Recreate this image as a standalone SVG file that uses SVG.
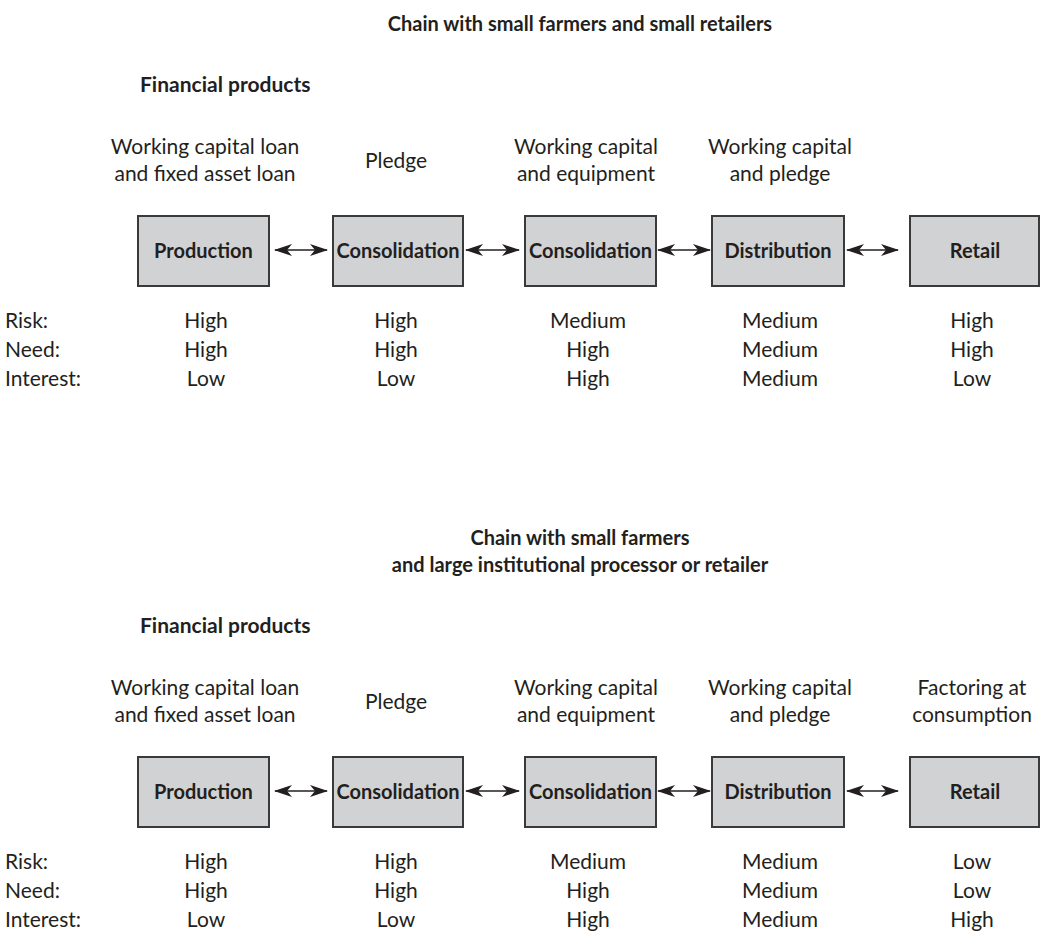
<svg xmlns="http://www.w3.org/2000/svg" width="1040" height="932" viewBox="0 0 1040 932">
  <style>
    text { font-family: Lato, "Liberation Sans", sans-serif; fill: #231f20; }
    .title { font-size: 20px; font-weight: bold; text-anchor: middle; }
    .section { font-size: 21px; font-weight: bold; }
    .prod { font-size: 21px; text-anchor: middle; }
    .val { font-size: 21px; text-anchor: middle; }
    .lbl { font-size: 21px; }
    .box { fill: #d1d2d4; stroke: #3a3a3a; stroke-width: 2; }
    .boxlabel { font-size: 20px; font-weight: bold; text-anchor: middle; }
    .link { stroke: #231f20; stroke-width: 1.6; fill: none; marker-start: url(#head); marker-end: url(#head); }
  </style>
  <defs>
    <marker id="head" viewBox="0 0 18 12" refX="17" refY="6" markerWidth="18" markerHeight="12" markerUnits="userSpaceOnUse" orient="auto-start-reverse">
      <path d="M0,0 L18,6 L0,12 L5,6 Z" fill="#231f20"/>
    </marker>
  </defs>

  <!-- Upper chain: small farmers and small retailers -->
  <g id="chain-upper">
    <text class="title" x="580" y="31">Chain with small farmers and small retailers</text>
    <text class="section" x="140" y="92">Financial products</text>

    <g id="products-upper">
      <text class="prod" x="205" y="154">Working capital loan</text>
      <text class="prod" x="205" y="181">and fixed asset loan</text>
      <text class="prod" x="396" y="168">Pledge</text>
      <text class="prod" x="586" y="154">Working capital</text>
      <text class="prod" x="586" y="181">and equipment</text>
      <text class="prod" x="780" y="154">Working capital</text>
      <text class="prod" x="780" y="181">and pledge</text>
    </g>

    <g id="u-production"><rect class="box" x="138" y="216" width="131" height="70"/><text class="boxlabel" x="203.5" y="258">Production</text></g>
    <g id="u-consolidation1"><rect class="box" x="333" y="216" width="130" height="70"/><text class="boxlabel" x="398" y="258">Consolidation</text></g>
    <g id="u-consolidation2"><rect class="box" x="525" y="216" width="131" height="70"/><text class="boxlabel" x="590.5" y="258">Consolidation</text></g>
    <g id="u-distribution"><rect class="box" x="712" y="216" width="132" height="70"/><text class="boxlabel" x="778" y="258">Distribution</text></g>
    <g id="u-retail"><rect class="box" x="910" y="216" width="129" height="70"/><text class="boxlabel" x="975" y="258">Retail</text></g>

    <g id="connectors-upper">
      <line class="link" x1="275" y1="250" x2="327" y2="250"/>
      <line class="link" x1="466" y1="250" x2="519" y2="250"/>
      <line class="link" x1="658" y1="250" x2="710" y2="250"/>
      <line class="link" x1="847" y1="250" x2="898" y2="250"/>
    </g>

    <g id="ratings-upper">
      <text class="lbl" x="5" y="328">Risk:</text>
      <text class="lbl" x="5" y="357">Need:</text>
      <text class="lbl" x="5" y="386">Interest:</text>
      <text class="val" x="206" y="328">High</text>
      <text class="val" x="206" y="357">High</text>
      <text class="val" x="206" y="386">Low</text>
      <text class="val" x="396" y="328">High</text>
      <text class="val" x="396" y="357">High</text>
      <text class="val" x="396" y="386">Low</text>
      <text class="val" x="588" y="328">Medium</text>
      <text class="val" x="588" y="357">High</text>
      <text class="val" x="588" y="386">High</text>
      <text class="val" x="780" y="328">Medium</text>
      <text class="val" x="780" y="357">Medium</text>
      <text class="val" x="780" y="386">Medium</text>
      <text class="val" x="972" y="328">High</text>
      <text class="val" x="972" y="357">High</text>
      <text class="val" x="972" y="386">Low</text>
    </g>
  </g>

  <!-- Lower chain: small farmers and large institutional processor or retailer -->
  <g id="chain-lower">
    <text class="title" x="580" y="545">Chain with small farmers</text>
    <text class="title" x="580" y="572">and large institutional processor or retailer</text>
    <text class="section" x="140" y="633">Financial products</text>

    <g id="products-lower">
      <text class="prod" x="205" y="695">Working capital loan</text>
      <text class="prod" x="205" y="722">and fixed asset loan</text>
      <text class="prod" x="396" y="709">Pledge</text>
      <text class="prod" x="586" y="695">Working capital</text>
      <text class="prod" x="586" y="722">and equipment</text>
      <text class="prod" x="780" y="695">Working capital</text>
      <text class="prod" x="780" y="722">and pledge</text>
      <text class="prod" x="972" y="695">Factoring at</text>
      <text class="prod" x="972" y="722">consumption</text>
    </g>

    <g id="l-production"><rect class="box" x="138" y="757" width="131" height="70"/><text class="boxlabel" x="203.5" y="799">Production</text></g>
    <g id="l-consolidation1"><rect class="box" x="333" y="757" width="130" height="70"/><text class="boxlabel" x="398" y="799">Consolidation</text></g>
    <g id="l-consolidation2"><rect class="box" x="525" y="757" width="131" height="70"/><text class="boxlabel" x="590.5" y="799">Consolidation</text></g>
    <g id="l-distribution"><rect class="box" x="712" y="757" width="132" height="70"/><text class="boxlabel" x="778" y="799">Distribution</text></g>
    <g id="l-retail"><rect class="box" x="910" y="757" width="129" height="70"/><text class="boxlabel" x="975" y="799">Retail</text></g>

    <g id="connectors-lower">
      <line class="link" x1="275" y1="791" x2="327" y2="791"/>
      <line class="link" x1="466" y1="791" x2="519" y2="791"/>
      <line class="link" x1="658" y1="791" x2="710" y2="791"/>
      <line class="link" x1="847" y1="791" x2="898" y2="791"/>
    </g>

    <g id="ratings-lower">
      <text class="lbl" x="5" y="869">Risk:</text>
      <text class="lbl" x="5" y="898">Need:</text>
      <text class="lbl" x="5" y="927">Interest:</text>
      <text class="val" x="206" y="869">High</text>
      <text class="val" x="206" y="898">High</text>
      <text class="val" x="206" y="927">Low</text>
      <text class="val" x="396" y="869">High</text>
      <text class="val" x="396" y="898">High</text>
      <text class="val" x="396" y="927">Low</text>
      <text class="val" x="588" y="869">Medium</text>
      <text class="val" x="588" y="898">High</text>
      <text class="val" x="588" y="927">High</text>
      <text class="val" x="780" y="869">Medium</text>
      <text class="val" x="780" y="898">Medium</text>
      <text class="val" x="780" y="927">Medium</text>
      <text class="val" x="972" y="869">Low</text>
      <text class="val" x="972" y="898">Low</text>
      <text class="val" x="972" y="927">High</text>
    </g>
  </g>
</svg>
